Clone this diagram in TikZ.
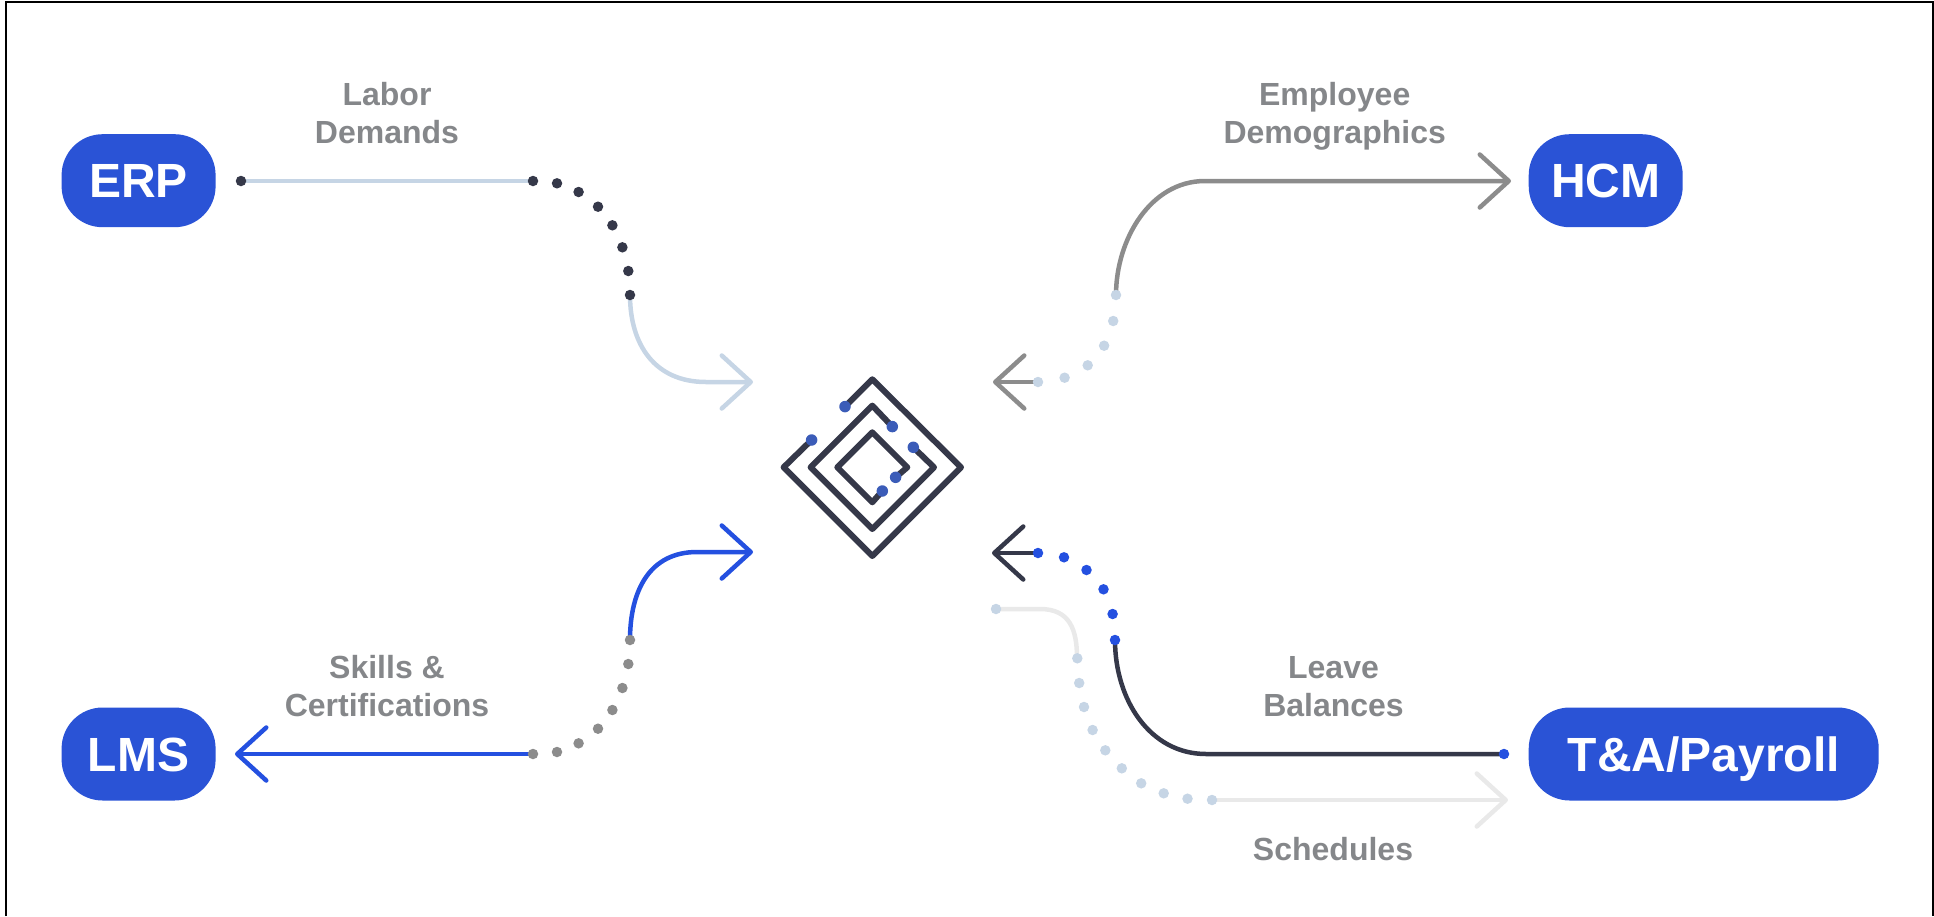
\documentclass[tikz,border=0pt]{standalone}
\usepackage{fontspec}
\setmainfont{Liberation Sans}
\usepackage{xcolor}
\usetikzlibrary{arrows.meta}
\definecolor{pillblue}{HTML}{2A53D6}
\definecolor{labgray}{HTML}{85878A}
\definecolor{paleblue}{HTML}{C6D5E5}
\definecolor{ink}{HTML}{353849}
\definecolor{midgray}{HTML}{8C8C8C}
\definecolor{palegray}{HTML}{E9E9E9}
\definecolor{linkblue}{HTML}{2450E0}
\definecolor{chipblue}{HTML}{3B5CB8}
\tikzset{
  pill/.style={fill=pillblue, text=white, rounded corners=41pt, minimum height=93pt, inner sep=0pt, text height=34.4pt, text depth=0pt, font=\fontsize{48}{48}\selectfont\bfseries},
  lab/.style={text=labgray, align=center, inner sep=0pt, font=\fontsize{32}{38}\selectfont\bfseries},
  line/.style={line width=4.5pt, line cap=round, line join=round},
  flow/.style={line, -{Straight Barb[length=29pt, width=53pt, line width=4.5pt, round]}},
  dot/.style={circle, inner sep=0pt, minimum size=10.5pt},
  chip/.style={line width=6pt, draw=ink, line join=round},
  chipdot/.style={circle, fill=chipblue, inner sep=0pt, minimum size=11.5pt},
}
\begin{document}
\begin{tikzpicture}[x=1pt, y=-1pt]
  \useasboundingbox (0,0) rectangle (1934,916);
  % frame, open at the bottom
  \draw[black, line width=2.2pt] (6,916) -- (6,2) -- (1933,2) -- (1933,916);

  % systems
  \node[pill, minimum width=154pt] (erp) at (138.6,180.7) {ERP};
  \node[pill, minimum width=154pt] (lms) at (138.6,754) {LMS};
  \node[pill, minimum width=154pt] (hcm) at (1605.7,180.7) {HCM};
  \node[pill, minimum width=350pt] (payroll) at (1703.7,754) {T\&A/Payroll};

  % labels
  \node[lab, anchor=base] (labor) at (387,143.3) {Labor\\Demands};
  \node[lab, anchor=base] (employee) at (1334.7,143.5) {Employee\\Demographics};
  \node[lab, anchor=base] (skills) at (387,716.7) {Skills \&\\Certifications};
  \node[lab, anchor=base] (leave) at (1333.5,716.7) {Leave\\Balances};
  \node[lab, anchor=base] (schedules) at (1333,860.7) {Schedules};

  % line ends
  \coordinate (erpA) at (241,181);
  \coordinate (erpB) at (533,181);
  \coordinate (erpC) at (630,295);
  \coordinate (erpD) at (706,382);
  \coordinate (erpE) at (753,382);
  \coordinate (hcmA) at (1038,382);
  \coordinate (hcmB) at (993,382);
  \coordinate (hcmC) at (1116,295);
  \coordinate (hcmD) at (1205,181);
  \coordinate (hcmE) at (1511,181);
  \coordinate (lmsA) at (533,754);
  \coordinate (lmsB) at (235,754);
  \coordinate (lmsC) at (630,640);
  \coordinate (lmsD) at (697,552);
  \coordinate (lmsE) at (753,552);
  \coordinate (payA) at (1504,754);
  \coordinate (payB) at (1206,754);
  \coordinate (payC) at (1115,640);
  \coordinate (payD) at (1038,553);
  \coordinate (payE) at (992,553);
  \coordinate (schA) at (996,609);
  \coordinate (schB) at (1040,609);
  \coordinate (schC) at (1077,658);
  \coordinate (schD) at (1212,800);
  \coordinate (schE) at (1508,800);

  % connectors
  \draw[line, draw=paleblue] (erpA) -- (erpB);
  \draw[flow, draw=paleblue] (erpC) .. controls (630,345) and (655,382) .. (erpD) -- (erpE);
  \draw[flow, draw=midgray] (hcmC) .. controls (1116,240) and (1150,181) .. (hcmD) -- (hcmE);
  \draw[flow, draw=midgray] (hcmA) -- (hcmB);
  \draw[flow, draw=linkblue] (lmsA) -- (lmsB);
  \draw[flow, draw=linkblue] (lmsC) .. controls (630,590) and (650,552) .. (lmsD) -- (lmsE);
  \draw[line, draw=ink] (payA) -- (payB) .. controls (1150,754) and (1115,700) .. (payC);
  \draw[flow, draw=ink] (payD) -- (payE);
  \draw[line, draw=palegray] (schA) -- (schB) .. controls (1070,609) and (1077,630) .. (schC);
  \draw[flow, draw=palegray] (schD) -- (schE);

  % dots
  \node[dot, fill=ink] (erpDotA) at (erpA) {};
  \foreach \i/\x/\y in {1/533/181,2/557/183.3,3/578.6/192,4/598/206.7,5/612.4/225.3,6/622.4/247.3,7/628.3/271,8/630/295}
    \node[dot, fill=ink] (erpDot\i) at (\x,\y) {};
  \foreach \i/\x/\y in {1/1116/295,2/1113.2/321,3/1104.1/345.7,4/1087.7/365.3,5/1064.6/377.7,6/1038/382}
    \node[dot, fill=paleblue] (hcmDot\i) at (\x,\y) {};
  \foreach \i/\x/\y in {1/533/754,2/557/752,3/578.6/743.3,4/598/728.7,5/612.4/710,6/622.4/688,7/628.3/664,8/630/640}
    \node[dot, fill=midgray] (lmsDot\i) at (\x,\y) {};
  \node[dot, fill=linkblue] (payDotA) at (payA) {};
  \foreach \i/\x/\y in {1/1115/640,2/1112.6/614,3/1103.5/589.3,4/1086.5/570,5/1064/557.3,6/1038/553}
    \node[dot, fill=linkblue] (payDot\i) at (\x,\y) {};
  \node[dot, fill=paleblue] (schDotA) at (schA) {};
  \foreach \i/\x/\y in {1/1077.3/658.3,2/1079.2/683,3/1084/707,4/1092.6/730,5/1105.3/750.3,6/1121.8/768.3,7/1141.2/783.3,8/1163.7/793.3,9/1187.5/798.7,10/1212/800}
    \node[dot, fill=paleblue] (schDot\i) at (\x,\y) {};

  % centre mark
  \begin{scope}[shift={(872.3,467.3)}]
    \coordinate (outA) at (-27.3,-60.7);
    \coordinate (outB) at (-60.7,-27.3);
    \coordinate (midA) at (20,-40.7);
    \coordinate (midB) at (41,-20);
    \coordinate (innA) at (10,23.7);
    \coordinate (innB) at (23.3,10);
    \draw[chip] (outA) -- (0,-88) -- (88.7,0) -- (0,88.7) -- (-88.7,0) -- (outB);
    \draw[chip] (midA) -- (0,-61.7) -- (-61.7,0) -- (0,61.7) -- (61.7,0) -- (midB);
    \draw[chip] (innA) -- (0,35) -- (-35,0) -- (0,-35) -- (35,0) -- (innB);
    \foreach \p/\q in {outA/chipA,outB/chipB,midA/chipC,midB/chipD,innA/chipE,innB/chipF}
      \node[chipdot] (\q) at (\p) {};
  \end{scope}
\end{tikzpicture}
\end{document}
